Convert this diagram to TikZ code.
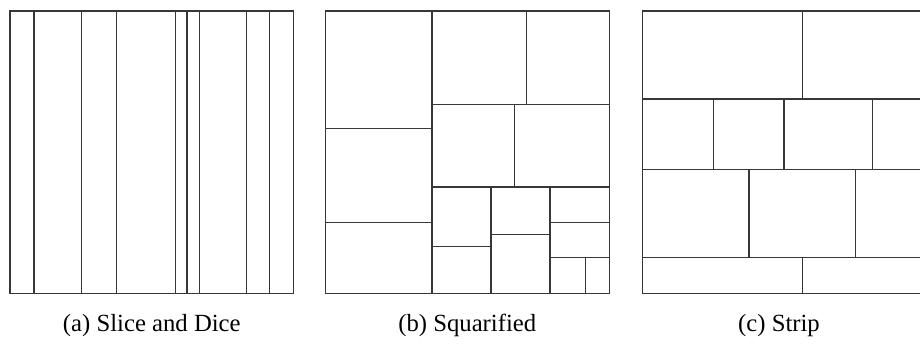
\documentclass[tikz,border=0pt]{standalone}
\usepackage{fontspec}
\setmainfont{Liberation Serif}
\usepackage{xcolor}
\definecolor{tline}{RGB}{55,55,55}

\begin{document}
\begin{tikzpicture}[x=0.5pt,y=-0.5pt,
  cell/.style={draw=tline,line width=0.6pt},
  capt/.style={font=\fontsize{12.35}{14}\selectfont,anchor=base,inner sep=0pt}
]
\clip (0,0) rectangle (920,345);

% (a) slice and dice
\draw[cell] (10,11) rectangle (293.7,293.3);
\foreach \x in {34,81.3,116.3,175.3,187,199.3,246.7,269.7}
  \draw[cell] (\x,11) -- (\x,293.3);

% (b) squarified
\draw[cell] (325.3,11) rectangle (609.3,293.3);
\draw[cell] (432,11) -- (432,293.3);
\draw[cell] (325.3,128.3) -- (432,128.3);
\draw[cell] (325.3,222.7) -- (432,222.7);
\draw[cell] (432,104.7) -- (609.3,104.7);
\draw[cell] (526.7,11) -- (526.7,104.7);
\draw[cell] (432,187) -- (609.3,187);
\draw[cell] (514.7,104.7) -- (514.7,187);
\draw[cell] (491,187) -- (491,293.3);
\draw[cell] (550,187) -- (550,293.3);
\draw[cell] (432,246.3) -- (491,246.3);
\draw[cell] (491,234.3) -- (550,234.3);
\draw[cell] (550,222.7) -- (609.3,222.7);
\draw[cell] (550,257.7) -- (609.3,257.7);
\draw[cell] (585.7,257.7) -- (585.7,293.3);

% (c) strip
\draw[cell] (642.7,11) rectangle (925.7,293.3);
\foreach \y in {99,169.3,257.7}
  \draw[cell] (642.7,\y) -- (925.7,\y);
\draw[cell] (802.3,11) -- (802.3,99);
\foreach \x in {713.3,784,872.7}
  \draw[cell] (\x,99) -- (\x,169.3);
\foreach \x in {749,855.3}
  \draw[cell] (\x,169.3) -- (\x,257.7);
\draw[cell] (802.3,257.7) -- (802.3,293.3);

% captions
\node[capt] (capa) at (151.8,331) {(a) Slice and Dice};
\node[capt] (capb) at (467.3,331) {(b) Squarified};
\node[capt] (capc) at (779,331) {(c) Strip};
\end{tikzpicture}
\end{document}
